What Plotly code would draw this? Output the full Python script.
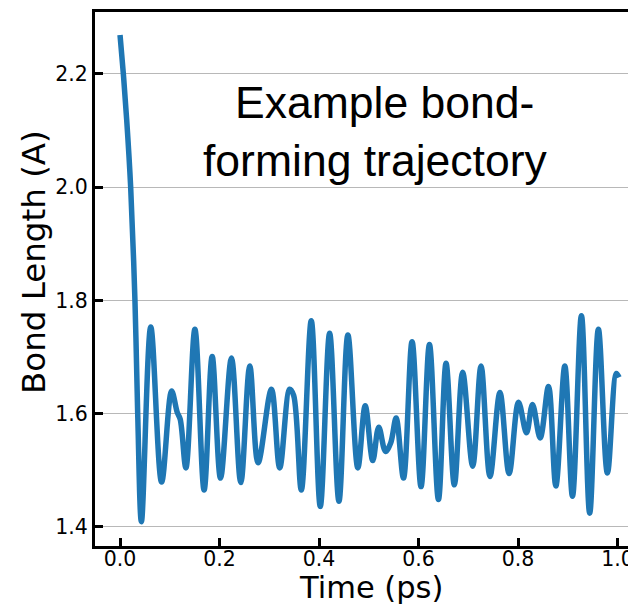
import plotly.graph_objects as go

# Data
time_ps = [0.0, 0.0067, 0.0134, 0.0214, 0.0300, 0.0355, 0.0430,
           0.0618, 0.0836, 0.1037, 0.1150, 0.1210, 0.1324, 0.1505, 0.1690, 0.1852,
           0.2020, 0.2240, 0.2427, 0.2608, 0.2775, 0.3043, 0.3210, 0.3410, 0.3490,
           0.3644, 0.3844, 0.4025, 0.4213, 0.4400, 0.4580, 0.4780, 0.4928, 0.5080,
           0.5200, 0.5336, 0.5440, 0.5550, 0.5697, 0.5870, 0.6050, 0.6219, 0.6400,
           0.6553, 0.6720, 0.6887, 0.7088, 0.7256, 0.7436, 0.7636, 0.7820, 0.8010,
           0.8170, 0.8290, 0.8445, 0.8612, 0.8760, 0.8940, 0.9094, 0.9274, 0.9440,
           0.9615, 0.9796, 0.9976, 1.0030]
bond_length = [2.269, 2.200, 2.119, 2.000, 1.800, 1.600, 1.409,
               1.753, 1.479, 1.640, 1.602, 1.590, 1.504, 1.749, 1.465, 1.701,
               1.486, 1.698, 1.478, 1.684, 1.513, 1.643, 1.504, 1.643, 1.632,
               1.465, 1.764, 1.436, 1.742, 1.445, 1.739, 1.504, 1.614, 1.517,
               1.576, 1.533, 1.548, 1.592, 1.486, 1.727, 1.471, 1.722, 1.448,
               1.689, 1.474, 1.673, 1.507, 1.684, 1.489, 1.637, 1.494, 1.620,
               1.566, 1.616, 1.557, 1.648, 1.472, 1.684, 1.454, 1.773, 1.424,
               1.749, 1.495, 1.671, 1.664]

x_ticks = [0.0, 0.2, 0.4, 0.6, 0.8, 1.0]
x_tick_labels = ["0.0", "0.2", "0.4", "0.6", "0.8", "1.0"]
y_ticks = [1.4, 1.6, 1.8, 2.0, 2.2]
y_tick_labels = ["1.4", "1.6", "1.8", "2.0", "2.2"]

title_lines = ["Example bond-", "forming trajectory"]
x_label = "Time (ps)"
y_label = "Bond Length (A)"

fig = go.Figure()
fig.add_trace(go.Scatter(
    x=time_ps, y=bond_length, mode="lines",
    line=dict(color="#1f77b4", width=5.5, shape="spline", smoothing=1.0),
    showlegend=False, hoverinfo="skip",
))

tick_font = dict(family="DejaVu Sans", size=20.5, color="black")

fig.update_layout(
    width=628, height=605,
    margin=dict(l=95, r=0, t=12, b=59, autoexpand=False),
    paper_bgcolor="white", plot_bgcolor="white",
    xaxis=dict(
        range=[-0.0503, 1.021], tickvals=x_ticks, ticktext=x_tick_labels,
        ticks="inside", ticklen=8, tickwidth=2.5, tickcolor="black",
        showline=True, linecolor="black", linewidth=3, mirror=True,
        showgrid=False, zeroline=False, tickfont=tick_font,
        ticklabelstandoff=-8, ticklabeloverflow="allow",
    ),
    yaxis=dict(
        range=[1.366, 2.3095], tickvals=y_ticks, ticktext=y_tick_labels,
        ticks="inside", ticklen=8, tickwidth=2.5, tickcolor="black",
        showline=True, linecolor="black", linewidth=3,
        showgrid=True, gridcolor="#b8b8b8", gridwidth=1,
        zeroline=False, tickfont=tick_font, ticklabelstandoff=0,
    ),
)

# Title text inside the plot (two lines)
fig.add_annotation(x=0.5307, y=2.1488, xref="x", yref="y", text=title_lines[0],
                   showarrow=False, xanchor="center", yanchor="middle",
                   font=dict(family="Liberation Sans", size=44.5, color="black"))
fig.add_annotation(x=0.5126, y=2.048, xref="x", yref="y", text=title_lines[1],
                   showarrow=False, xanchor="center", yanchor="middle",
                   font=dict(family="Liberation Sans", size=44.5, color="black"))

# Axis labels
fig.add_annotation(x=(370.5 - 95) / 533, y=(546 - 587) / 534, xref="paper", yref="paper",
                   text=x_label, showarrow=False, xanchor="center", yanchor="middle",
                   font=dict(family="DejaVu Sans", size=30.5, color="black"))
fig.add_annotation(x=(34 - 95) / 533, y=(546 - 262) / 534, xref="paper", yref="paper",
                   text=y_label, showarrow=False, xanchor="center", yanchor="middle",
                   textangle=-90,
                   font=dict(family="DejaVu Sans", size=32.5, color="black"))

fig.write_html("out.html", config={"displayModeBar": False},
               post_script="document.body.style.margin='0';document.body.style.overflow='hidden';")
